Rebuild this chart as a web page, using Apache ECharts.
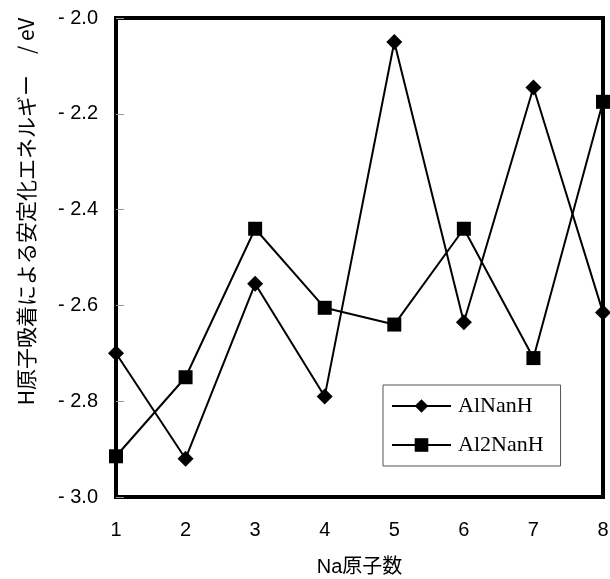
<!DOCTYPE html>
<html>
<head>
<meta charset="utf-8">
<script src="https://cdn.jsdelivr.net/npm/echarts@6/dist/echarts.min.js"></script>
<style>
html,body{margin:0;padding:0;background:#fff;}
#chart{width:610px;height:579px;}
</style>
</head>
<body>
<div id="chart"></div>
<script>
const categories = ['1','2','3','4','5','6','7','8'];
const alNanH = [-2.70, -2.92, -2.555, -2.79, -2.05, -2.635, -2.145, -2.615];
const al2NanH = [-2.915, -2.75, -2.44, -2.605, -2.64, -2.44, -2.71, -2.175];
const seriesNames = ['AlNanH', 'Al2NanH'];
const xName = 'Na原子数';
const yName = 'H原子吸着による安定化エネルギー　/ eV';

const chart = echarts.init(document.getElementById('chart'));
chart.setOption({
  animation: false,
  backgroundColor: '#fff',
  grid: {left: 116, right: 7, top: 18, bottom: 82, show: true, borderColor: '#000', borderWidth: 4,
         containLabel: false, outerBoundsMode: 'none'},
  legend: {
    orient: 'vertical',
    left: 383, top: 385,
    padding: [10, 17, 10, 8],
    itemWidth: 59, itemHeight: 17, itemGap: 17,
    borderColor: '#555', borderWidth: 1,
    backgroundColor: '#fff',
    textStyle: {fontFamily: 'Liberation Serif', fontSize: 22, color: '#000', padding: [0, 0, 0, 2]},
    data: seriesNames
  },
  xAxis: {
    type: 'category', data: categories, boundaryGap: false,
    axisLine: {show: false}, axisTick: {show: false},
    axisLabel: {color: '#000', fontFamily: 'Liberation Sans', fontSize: 20, margin: 23},
    name: xName, nameLocation: 'middle', nameGap: 60,
    nameTextStyle: {color: '#000', fontFamily: 'Liberation Sans, Noto Sans CJK JP', fontSize: 20}
  },
  yAxis: {
    type: 'value', min: -3.0, max: -2.0, interval: 0.2,
    axisLine: {show: false},
    axisTick: {show: true, inside: true, length: 8, lineStyle: {color: '#999', width: 1}},
    splitLine: {show: false},
    axisLabel: {color: '#000', fontFamily: 'Liberation Sans', fontSize: 20, margin: 18,
      formatter: v => (v < 0 ? '- ' : '') + Math.abs(v).toFixed(1)},
    name: yName, nameLocation: 'middle', nameGap: 79,
    nameTextStyle: {color: '#000', fontFamily: 'Noto Sans CJK JP', fontSize: 21, padding: [0, 0, 0, 92]}
  },
  series: [
    {name: seriesNames[0], type: 'line', data: alNanH, symbol: 'diamond', symbolSize: 16,
     lineStyle: {color: '#000', width: 2}, itemStyle: {color: '#000'}, z: 3},
    {name: seriesNames[1], type: 'line', data: al2NanH, symbol: 'rect', symbolSize: 14,
     lineStyle: {color: '#000', width: 2}, itemStyle: {color: '#000'}, z: 3}
  ]
});
</script>
</body>
</html>
